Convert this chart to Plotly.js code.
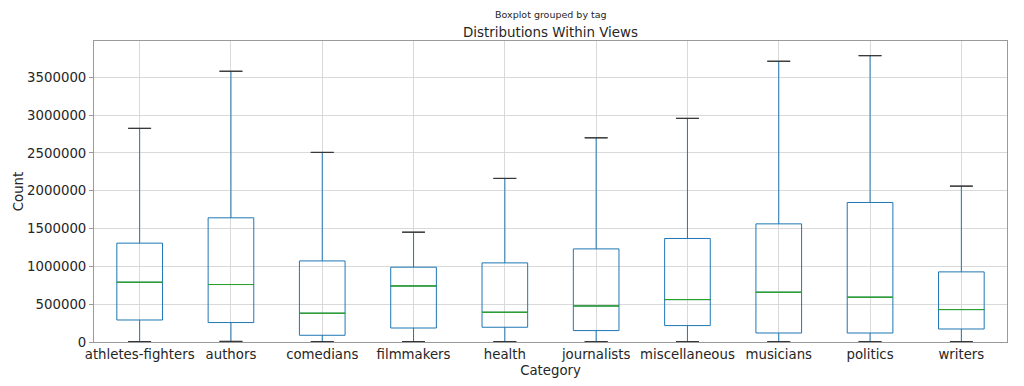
<!DOCTYPE html>
<html>
<head>
<meta charset="utf-8">
<script src="https://cdn.plot.ly/plotly-3.0.1.min.js"></script>
<style>html,body{margin:0;padding:0;background:#fff;}#chart{width:1024px;height:386px;}</style>
</head>
<body>
<div id="chart"></div>
<script>
const categories = ['athletes-fighters','authors','comedians','filmmakers','health','journalists','miscellaneous','musicians','politics','writers'];
const lowerWhisker = [6000, 8000, 5000, 6000, 5000, 5000, 5000, 5000, 5000, 5000];
const q1Values = [291000, 257000, 89000, 185000, 195000, 151000, 217000, 119000, 119000, 172000];
const medianValues = [790000, 760000, 380000, 741000, 393000, 477000, 561000, 658000, 592000, 429000];
const q3Values = [1307000, 1642000, 1072000, 989000, 1046000, 1231000, 1369000, 1562000, 1845000, 927000];
const upperWhisker = [2825000, 3580000, 2507000, 1452000, 2163000, 2700000, 2957000, 3712000, 3786000, 2061000];
const yTicks = [0, 500000, 1000000, 1500000, 2000000, 2500000, 3000000, 3500000];

const fontFam = 'DejaVu Sans, sans-serif';
const blue = '#1f77b4', green = '#2ca02c', capColor = '#333333';
const txt = '#262626';

function degenerate(vals, color, width, name) {
  return {
    type: 'box', name: name, x: categories,
    q1: vals, median: vals, q3: vals, lowerfence: vals, upperfence: vals,
    width: width, whiskerwidth: 0,
    line: {color: color, width: 0.8}, fillcolor: 'rgba(0,0,0,0)',
    hoverinfo: 'skip', showlegend: false
  };
}

const traces = [
  {
    type: 'box', name: 'views', x: categories,
    q1: q1Values, median: medianValues, q3: q3Values,
    lowerfence: lowerWhisker, upperfence: upperWhisker,
    width: 0.5, whiskerwidth: 0,
    line: {color: blue, width: 1}, fillcolor: 'rgba(0,0,0,0)',
    hoverinfo: 'skip', showlegend: false
  },
  degenerate(medianValues, green, 0.5, 'median'),
  degenerate(upperWhisker, capColor, 0.25, 'upper cap'),
  degenerate(lowerWhisker, capColor, 0.25, 'lower cap')
];

const layout = {
  width: 1024, height: 386,
  margin: {l: 94, r: 17, t: 41, b: 44},
  paper_bgcolor: '#ffffff', plot_bgcolor: '#ffffff',
  font: {family: fontFam, color: txt, size: 13.3},
  boxmode: 'overlay',
  showlegend: false,
  title: {text: 'Distributions Within Views', font: {family: fontFam, size: 13.4, color: txt},
          x: 0.5375, xanchor: 'center', y: 0.917, yanchor: 'middle'},
  annotations: [{
    text: 'Boxplot grouped by tag', xref: 'paper', yref: 'paper', x: 0.5, y: 1, yshift: 27,
    xanchor: 'center', yanchor: 'middle', showarrow: false,
    font: {family: fontFam, size: 9.5, color: txt}
  }],
  xaxis: {
    type: 'category', range: [-0.5, 9.5],
    showgrid: true, gridcolor: '#d9d9d9', gridwidth: 1,
    showline: true, mirror: true, linecolor: '#9a9a9a', linewidth: 1,
    ticks: '', tickfont: {family: fontFam, size: 13.3, color: txt},
    title: {text: 'Category', font: {family: fontFam, size: 13.3, color: txt}, standoff: 4},
    zeroline: false, fixedrange: true
  },
  yaxis: {
    range: [0, 3980000], tickmode: 'array', tickvals: yTicks,
    ticktext: yTicks.map(v => String(v)),
    showgrid: true, gridcolor: '#d9d9d9', gridwidth: 1,
    showline: true, mirror: true, linecolor: '#9a9a9a', linewidth: 1,
    ticks: 'outside', ticklen: 4, tickcolor: '#9a9a9a',
    tickfont: {family: fontFam, size: 13.3, color: txt},
    title: {text: 'Count', font: {family: fontFam, size: 13.3, color: txt}, standoff: 0},
    zeroline: false, fixedrange: true
  }
};

Plotly.newPlot('chart', traces, layout, {displayModeBar: false, staticPlot: true});
</script>
</body>
</html>
